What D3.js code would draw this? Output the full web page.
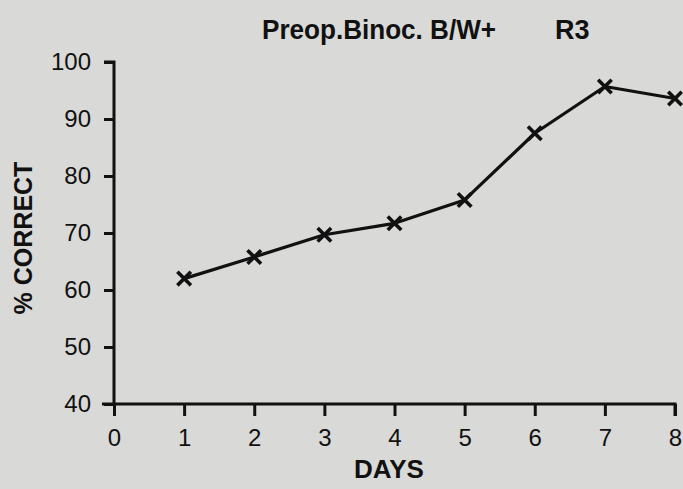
<!DOCTYPE html>
<html><head><meta charset="utf-8">
<script src="https://cdn.jsdelivr.net/npm/d3@7"></script>
<style>
html,body{margin:0;padding:0;background:#d9d9d7;}
svg{display:block;}
text{font-family:"Liberation Sans",Arial,Helvetica,sans-serif;fill:#111;}
</style></head><body>
<svg id="c" width="683" height="489"></svg>
<script>
const days = [1, 2, 3, 4, 5, 6, 7, 8];
const pctCorrect = [62, 65.8, 69.7, 71.7, 75.8, 87.5, 95.7, 93.6];
const xTicks = [0, 1, 2, 3, 4, 5, 6, 7, 8];
const yTicks = [40, 50, 60, 70, 80, 90, 100];
const titleLeft = "Preop.Binoc. B/W+";
const titleRight = "R3";
const xLabel = "DAYS";
const yLabel = "% CORRECT";

const svg = d3.select("#c");
const x = d3.scaleLinear().domain([0, 8]).range([114, 675]);
const y = d3.scaleLinear().domain([40, 100]).range([404, 62]);

svg.append("rect").attr("width", 683).attr("height", 489).attr("fill", "#d9d9d7");

const xAxis = svg.append("g").attr("transform", `translate(0,${y(40)})`)
  .call(d3.axisBottom(x).tickValues(xTicks).tickSize(12).tickPadding(13).tickFormat(d3.format("d")));
const yAxis = svg.append("g").attr("transform", `translate(${x(0)},0)`)
  .call(d3.axisLeft(y).tickValues(yTicks).tickSize(10).tickPadding(13).tickFormat(d3.format("d")));
[xAxis, yAxis].forEach(g => {
  g.attr("font-size", null).attr("font-family", null);
  g.select(".domain").attr("stroke", "#111").attr("stroke-width", 3);
  g.selectAll(".tick line").attr("stroke", "#111").attr("stroke-width", 3);
  g.selectAll(".tick text").attr("font-size", 24).attr("fill", "#111");
});
xAxis.select(".domain").attr("d", `M${x(0) - 12},0H${x(8)}V12`);
yAxis.select(".domain").attr("d", `M-10,${y(100)}H0V${y(40)}`);

const line = d3.line().x((d, i) => x(days[i])).y(d => y(d));
svg.append("path").datum(pctCorrect).attr("d", line)
  .attr("fill", "none").attr("stroke", "#111").attr("stroke-width", 3.2).attr("stroke-linejoin", "round");

const s = 5.5;
const marks = svg.append("g");
pctCorrect.forEach((v, i) => {
  const cx = x(days[i]), cy = y(v);
  marks.append("path")
    .attr("d", `M${cx - s},${cy - s}L${cx + s},${cy + s}M${cx - s},${cy + s}L${cx + s},${cy - s}`)
    .attr("stroke", "#111").attr("stroke-width", 3.6).attr("stroke-linecap", "square");
});

svg.append("text").attr("x", 262).attr("y", 39).attr("font-size", 27).attr("font-weight", "bold")
  .attr("textLength", 234).attr("lengthAdjust", "spacingAndGlyphs").text(titleLeft);
svg.append("text").attr("x", 555).attr("y", 39).attr("font-size", 27).attr("font-weight", "bold")
  .text(titleRight);
svg.append("text").attr("x", 389).attr("y", 478).attr("text-anchor", "middle")
  .attr("font-size", 26).attr("font-weight", "bold").text(xLabel);
svg.append("text").attr("transform", `translate(32,238) rotate(-90)`).attr("text-anchor", "middle")
  .attr("font-size", 25).attr("font-weight", "bold").text(yLabel);
</script>
</body></html>
